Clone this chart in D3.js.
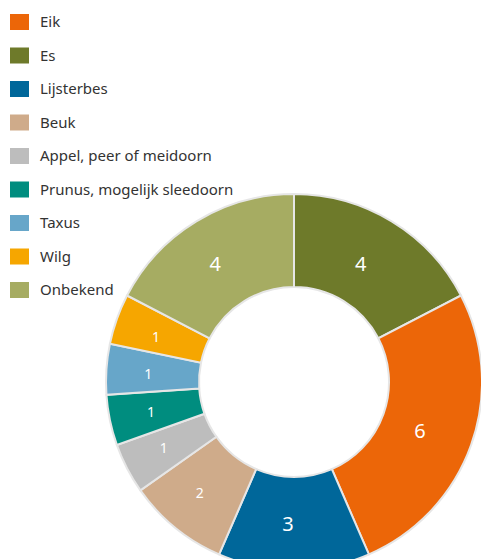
<!DOCTYPE html>
<html>
<head>
<meta charset="utf-8">
<script src="https://cdn.jsdelivr.net/npm/d3@7"></script>
<style>
  body { margin: 0; background: #fff; }
  svg { display: block; font-family: "Noto Sans", "Open Sans", sans-serif; }
</style>
</head>
<body>
<div id="chart"></div>
<script>
// legend order
const categories = ['Eik', 'Es', 'Lijsterbes', 'Beuk', 'Appel, peer of meidoorn',
                    'Prunus, mogelijk sleedoorn', 'Taxus', 'Wilg', 'Onbekend']
const counts = [6, 4, 3, 2, 1, 1, 1, 1, 4]
const colors = ['#ec6608', '#6e7a2a', '#00679a', '#cfab8a', '#bdbdbd',
                '#008d7f', '#67a6c9', '#f6a600', '#a6ac62']
// clockwise from 12 o'clock
const pieOrder = ['Es', 'Eik', 'Lijsterbes', 'Beuk', 'Appel, peer of meidoorn',
                  'Prunus, mogelijk sleedoorn', 'Taxus', 'Wilg', 'Onbekend']

const width = 481
const height = 559
const cx = 294
const cy = 382
const outerR = 188
const innerR = 95
const labelR = 140

const data = pieOrder.map(name => {
    const i = categories.indexOf(name)
    return { name, value: counts[i], color: colors[i] }
})

const svg = d3.select('#chart')
              .append('svg')
              .attr('width', width)
              .attr('height', height)

const pie = d3.pie()
              .sort(null)
              .value(d => d.value)

const arc = d3.arc()
              .innerRadius(innerR)
              .outerRadius(outerR)

const labelArc = d3.arc()
                   .innerRadius(labelR)
                   .outerRadius(labelR)

const g = svg.append('g')
             .attr('transform', `translate(${cx}, ${cy})`)

g.selectAll('path')
 .data(pie(data))
 .enter().append('path')
 .attr('d', arc)
 .attr('fill', d => d.data.color)
 .attr('stroke', '#e6e6e6')
 .attr('stroke-width', 2)

g.selectAll('.label')
 .data(pie(data))
 .enter().append('text')
 .attr('class', 'label')
 .attr('transform', d => {
     const [lx, ly] = labelArc.centroid(d)
     return `translate(${lx - 6}, ${ly + 2})`
 })
 .attr('text-anchor', 'middle')
 .attr('dy', '0.35em')
 .attr('fill', '#fff')
 .style('font-size', d => d.data.value >= 3 ? '20px' : '14px')
 .text(d => d.data.value)

// legend
const legend = svg.append('g')
const rowY = d3.scaleLinear()
               .domain([0, categories.length - 1])
               .range([22, 290])

const rows = legend.selectAll('.row')
                   .data(categories)
                   .enter().append('g')
                   .attr('class', 'row')
                   .attr('transform', (d, i) => `translate(0, ${rowY(i)})`)

rows.append('rect')
    .attr('x', 10)
    .attr('y', -8)
    .attr('width', 19)
    .attr('height', 16)
    .attr('fill', (d, i) => colors[i])

rows.append('text')
    .attr('x', 40)
    .attr('dy', '0.35em')
    .attr('fill', '#333')
    .style('font-size', '15px')
    .text(d => d)
</script>
</body>
</html>
